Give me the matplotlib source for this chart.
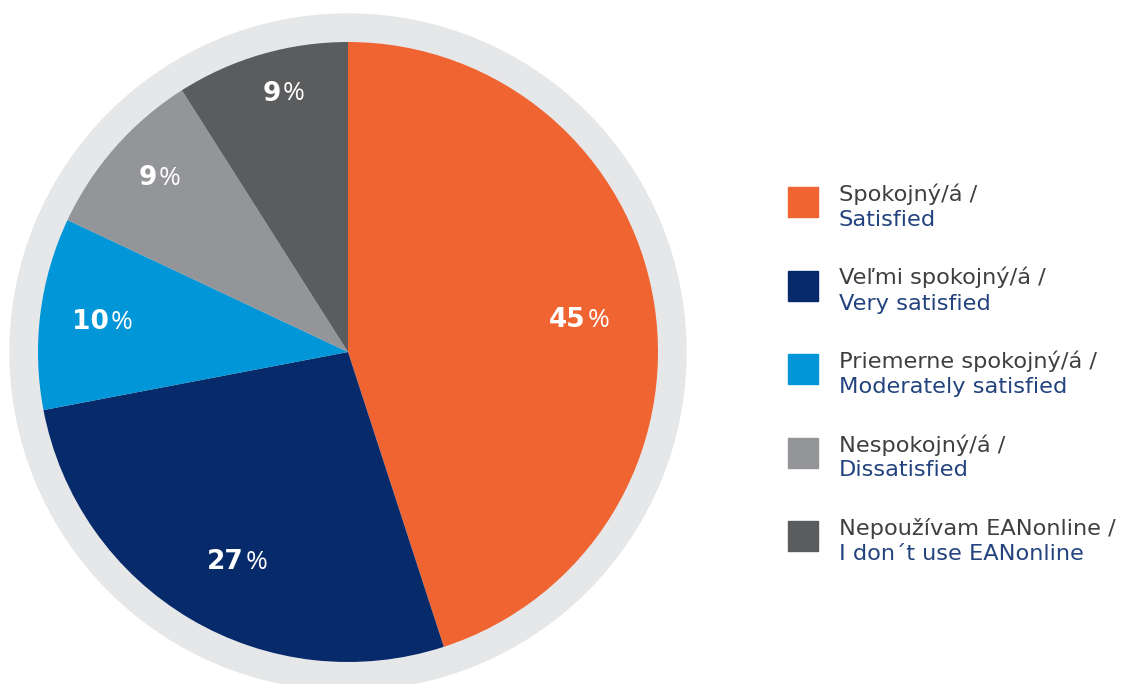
import numpy as np
import matplotlib as mpl
mpl.use('Agg')
import matplotlib.pyplot as plt
from matplotlib.patches import Circle, Rectangle

# Dados
valores = [45, 27, 10, 9, 9]
rotulos_sk = ['Spokojný/á /', 'Veľmi spokojný/á /', 'Priemerne spokojný/á /',
              'Nespokojný/á /', 'Nepoužívam EANonline /']
rotulos_en = ['Satisfied', 'Very satisfied', 'Moderately satisfied',
              'Dissatisfied', 'I don´t use EANonline']
cores = ['#f06432', '#072a6b', '#0096d8', '#939598', '#5b5c5e']

# Layout (pixels, y para cima)
W, H = 1126, 684
centro = (348, 332)
raio = 310
raio_anel = 338
dist_rotulo = [0.717, 0.776, 0.837, 0.861, 0.877]

plt.rcParams['font.family'] = ['DejaVu Sans']

fig = plt.figure(figsize=(W / 100, H / 100), dpi=100)
ax = fig.add_axes([0, 0, 1, 1])

# Anel cinza de fundo
ax.add_patch(Circle(centro, raio_anel, color='#e6e7e8', zorder=0))

fatias, _ = ax.pie(valores, colors=cores, startangle=90, counterclock=False,
                   center=centro, radius=raio,
                   wedgeprops=dict(linewidth=0))

for f, v, d in zip(fatias, valores, dist_rotulo):
    ang = np.deg2rad((f.theta1 + f.theta2) / 2)
    x = centro[0] + d * raio * np.cos(ang)
    y = centro[1] + d * raio * np.sin(ang)
    num = ax.text(x, y, f'{v}', ha='center', va='center_baseline',
                  color='white', fontsize=19, fontweight='bold')
    ax.annotate('%', xy=(1, 0.5), xycoords=num, xytext=(1, 0),
                textcoords='offset points', ha='left', va='center',
                color='white', fontsize=19, family='Open Sans')

# Legenda manual
topo = 684 - 187
passo = 83.5
for i, (sk, en, c) in enumerate(zip(rotulos_sk, rotulos_en, cores)):
    y0 = topo - i * passo
    ax.add_patch(Rectangle((788, y0 - 30), 30, 30, color=c))
    ax.text(839, y0 - 14, sk, ha='left', va='baseline', color='#3f3f41',
            fontsize=16.2)
    ax.text(839, y0 - 39, en, ha='left', va='baseline', color='#23437f',
            fontsize=16.2)

ax.set_xlim(0, W)
ax.set_ylim(0, H)
ax.set_aspect('auto')
ax.axis('off')

plt.savefig('out.png', dpi=100)
plt.close()
